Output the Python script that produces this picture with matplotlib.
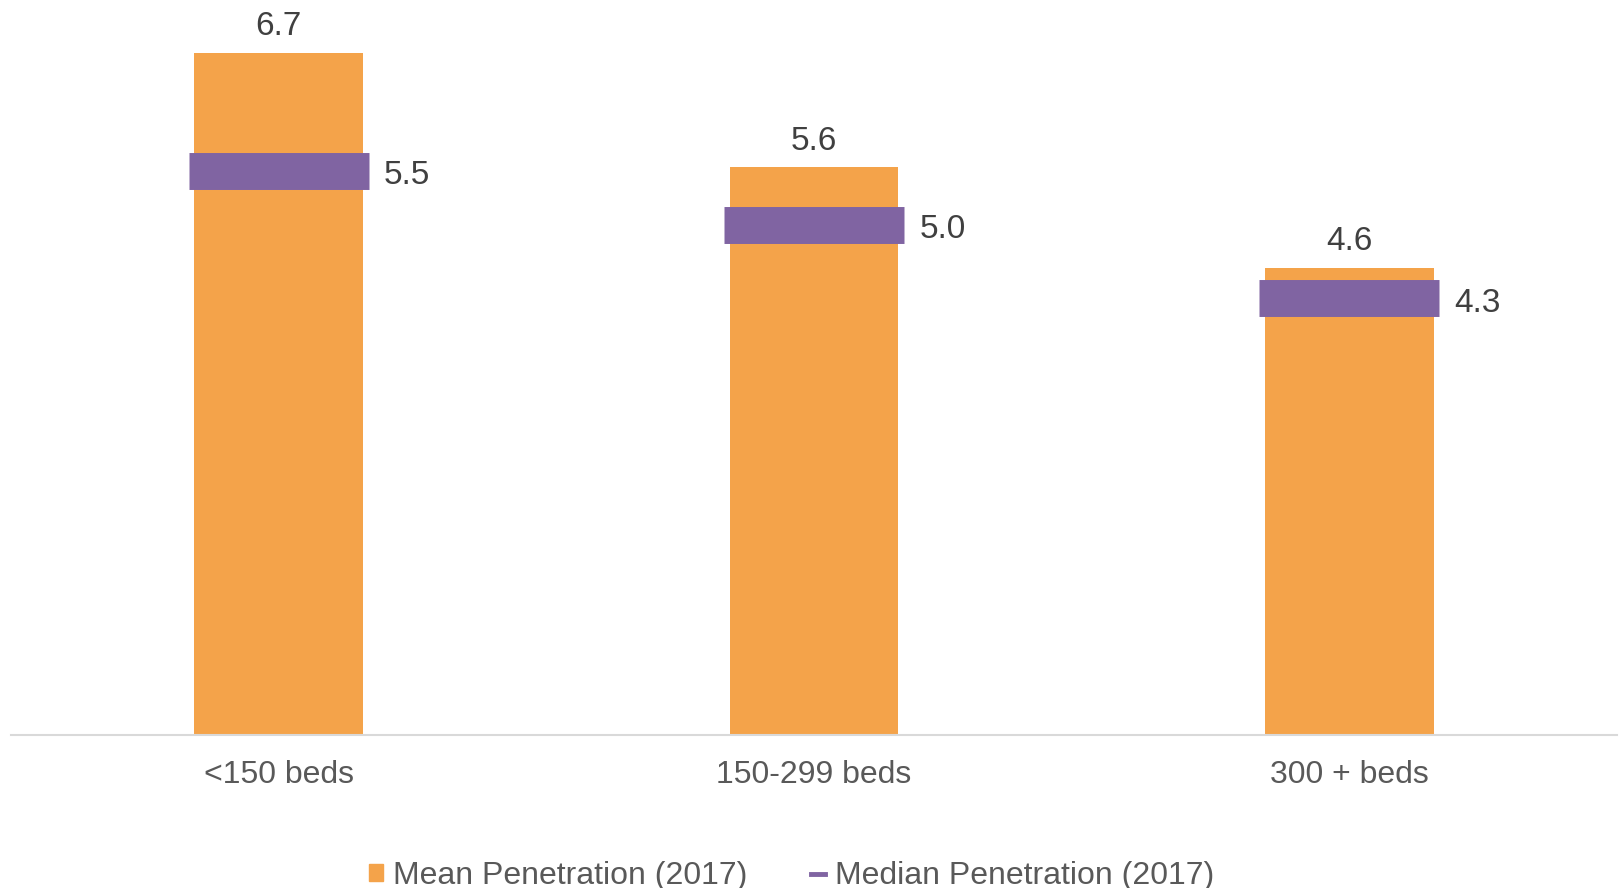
import numpy as np
import matplotlib
matplotlib.use("Agg")
import matplotlib.pyplot as plt
from matplotlib.patches import Patch
from matplotlib.lines import Line2D

plt.rcParams['font.family'] = ['Liberation Sans', 'DejaVu Sans']

categories = ['<150 beds', '150-299 beds', '300 + beds']
mean_pen = [6.70, 5.58, 4.59]
median_pen = [5.54, 5.01, 4.29]

orange = '#F4A34A'
purple = '#8064A2'

fig = plt.figure(figsize=(16.22, 8.88), dpi=100)
ax = fig.add_axes([11/1622, 153/888, 1606/1622, 733/888])

x = np.arange(len(categories))
ax.bar(x, mean_pen, width=0.315, color=orange, zorder=2)
ax.hlines(median_pen, x - 0.168, x + 0.168, colors=purple, linewidth=26.6,
          capstyle='butt', zorder=3)

for xi, m in zip(x, mean_pen):
    ax.annotate(f'{m:.1f}', (xi, m), xytext=(0, 7.5), textcoords='offset points',
                ha='center', va='bottom', fontsize=24, color='#404040')
for xi, m in zip(x, median_pen):
    ax.annotate(f'{m:.1f}', (xi + 0.168, m), xytext=(11, -3.5), textcoords='offset points',
                ha='left', va='center', fontsize=24, color='#404040')

ax.set_xlim(-0.5, 2.5)
ax.set_ylim(0, 7.2)
ax.set_yticks([])
ax.set_xticks(x)
ax.set_xticklabels(categories, fontsize=23, color='#595959')
ax.tick_params(axis='x', length=0, pad=18)
for s in ['top', 'right', 'left']:
    ax.spines[s].set_visible(False)
ax.spines['bottom'].set_color('#D9D9D9')
ax.spines['bottom'].set_linewidth(1.5)

handles = [Patch(color=orange, label='Mean Penetration (2017)'),
           Line2D([0], [0], color=purple, lw=3.5, label='Median Penetration (2017)')]
fig.legend(handles=handles, loc='center', bbox_to_anchor=(0.488, 0.014), ncol=2,
           frameon=False, fontsize=23, labelcolor='#595959', handlelength=0.45,
           handleheight=0.45, handletextpad=0.3, columnspacing=2.0)

fig.savefig('out.png', dpi=100)
